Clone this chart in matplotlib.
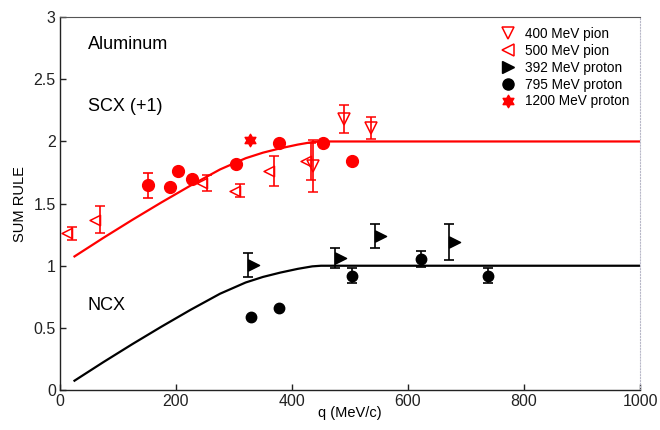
import numpy as np
import matplotlib.pyplot as plt
from matplotlib.path import Path
from matplotlib.lines import Line2D

plt.rcParams['font.family'] = ['Liberation Sans', 'DejaVu Sans']

# Sum-rule curve (NCX); the SCX curve is drawn shifted by +1
q_curve = [25, 75, 125, 175, 225, 276, 320, 350, 380, 410, 435, 450, 1000]
ncx_curve = [0.075, 0.225, 0.37, 0.51, 0.645, 0.775, 0.865, 0.91, 0.945,
             0.975, 0.995, 1.0, 1.0]
scx_offset = 1.0

# SCX data (already shifted +1)
pi400_q = [437, 490, 536]
pi400_y = [1.80, 2.18, 2.11]
pi400_e = [0.21, 0.11, 0.09]

pi500_q = [20, 69, 253, 310, 369, 432]
pi500_y = [1.26, 1.37, 1.665, 1.605, 1.765, 1.84]
pi500_e = [0.05, 0.11, 0.067, 0.05, 0.12, 0.15]

p795_scx_q = [151, 190, 203, 228, 303, 378, 454, 503]
p795_scx_y = [1.648, 1.634, 1.76, 1.70, 1.815, 1.984, 1.99, 1.84]
p795_scx_e = [0.10, 0, 0, 0, 0, 0, 0, 0]

p1200_q = [328]
p1200_y = [2.01]

# NCX data
p392_q = [325, 474, 543, 671]
p392_y = [1.008, 1.06, 1.24, 1.19]
p392_e = [0.095, 0.08, 0.095, 0.145]

p795_ncx_q = [329, 378, 503, 622, 738]
p795_ncx_y = [0.586, 0.66, 0.92, 1.054, 0.92]
p795_ncx_e = [0, 0, 0.06, 0.065, 0.06]

legend_labels = ['400 MeV pion', '500 MeV pion', '392 MeV proton',
                 '795 MeV proton', '1200 MeV proton']

# triangles with the base on the data point, star with six points
tri_left = Path([(0, 0.5), (0, -0.5), (-1, 0), (0, 0.5)],
                [Path.MOVETO, Path.LINETO, Path.LINETO, Path.CLOSEPOLY])
tri_right = Path([(0, 0.5), (0, -0.5), (1, 0), (0, 0.5)],
                 [Path.MOVETO, Path.LINETO, Path.LINETO, Path.CLOSEPOLY])
ang = np.deg2rad(90 + 30 * np.arange(12))
rad = np.where(np.arange(12) % 2 == 0, 1.0, 1 / np.sqrt(3))
hexa = list(zip(rad * np.cos(ang), rad * np.sin(ang)))
hexagram = Path(hexa + [hexa[0]],
                [Path.MOVETO] + [Path.LINETO] * 11 + [Path.CLOSEPOLY])

red = '#ff0000'
fig = plt.figure(figsize=(6.6, 4.3), dpi=100)
ax = fig.add_axes([0.0909, 0.093, 0.8788, 0.867])

ax.plot(q_curve, np.array(ncx_curve) + scx_offset, color=red, lw=1.6, zorder=2)
ax.plot(q_curve, ncx_curve, color='black', lw=1.6, zorder=2)

eb = dict(linestyle='none', elinewidth=1.2, capsize=3.5, capthick=1.2, zorder=3)
ax.errorbar(pi400_q, pi400_y, yerr=pi400_e, marker='v', ms=9, mfc='none',
            mec=red, mew=1.1, color=red, **eb)
ax.errorbar(pi500_q, pi500_y, yerr=pi500_e, marker=tri_left, ms=15, mfc='none',
            mec=red, mew=1.1, color=red, **eb)
ax.errorbar(p795_scx_q, p795_scx_y, yerr=p795_scx_e, marker='o', ms=8.5,
            mfc=red, mec=red, color=red, **eb)
ax.plot(p1200_q, p1200_y, linestyle='none', marker=hexagram, ms=9,
        mfc=red, mec=red, zorder=3)
ax.errorbar(p392_q, p392_y, yerr=p392_e, marker=tri_right, ms=16,
            mfc='black', mec='black', color='black', **eb)
ax.errorbar(p795_ncx_q, p795_ncx_y, yerr=p795_ncx_e, marker='o', ms=7.5,
            mfc='black', mec='black', color='black', **eb)

ax.set_xlim(0, 1000)
ax.set_ylim(0, 3)
ax.set_xticks([0, 200, 400, 600, 800, 1000])
ax.set_yticks([0, 0.5, 1, 1.5, 2, 2.5, 3])
ax.set_yticklabels(['0', '0.5', '1', '1.5', '2', '2.5', '3'])
ax.tick_params(direction='in', length=4, width=1, labelsize=11.5,
               colors='#222222', pad=3)
ax.set_xlabel('q (MeV/c)', fontsize=10.5, labelpad=-2)
ax.set_ylabel('SUM RULE', fontsize=10.5, labelpad=5)

for s in ['left', 'bottom']:
    ax.spines[s].set_color('#222222')
    ax.spines[s].set_linewidth(1.0)
ax.spines['top'].set_color('#555555')
ax.spines['top'].set_linewidth(0.8)
ax.spines['right'].set_color('#b8b8c8')
ax.spines['right'].set_linestyle(':')
ax.spines['right'].set_linewidth(0.8)

ax.text(48, 2.78, 'Aluminum', fontsize=13, ha='left', va='center')
ax.text(48, 2.28, 'SCX (+1)', fontsize=13, ha='left', va='center')
ax.text(48, 0.68, 'NCX', fontsize=13, ha='left', va='center')

handles = [
    Line2D([], [], ls='none', marker='v', ms=9, mfc='none', mec=red, mew=1.1),
    Line2D([], [], ls='none', marker='<', ms=9, mfc='none', mec=red, mew=1.1),
    Line2D([], [], ls='none', marker='>', ms=9, mfc='black', mec='black'),
    Line2D([], [], ls='none', marker='o', ms=8, mfc='black', mec='black'),
    Line2D([], [], ls='none', marker=hexagram, ms=9, mfc=red, mec=red),
]
ax.legend(handles, legend_labels, loc='upper left', bbox_to_anchor=(0.76, 0.975),
          frameon=False, fontsize=9.8, handlelength=1.0, handletextpad=0.8,
          labelspacing=0.22, borderpad=0, borderaxespad=0)

fig.savefig('out.png', dpi=100)
